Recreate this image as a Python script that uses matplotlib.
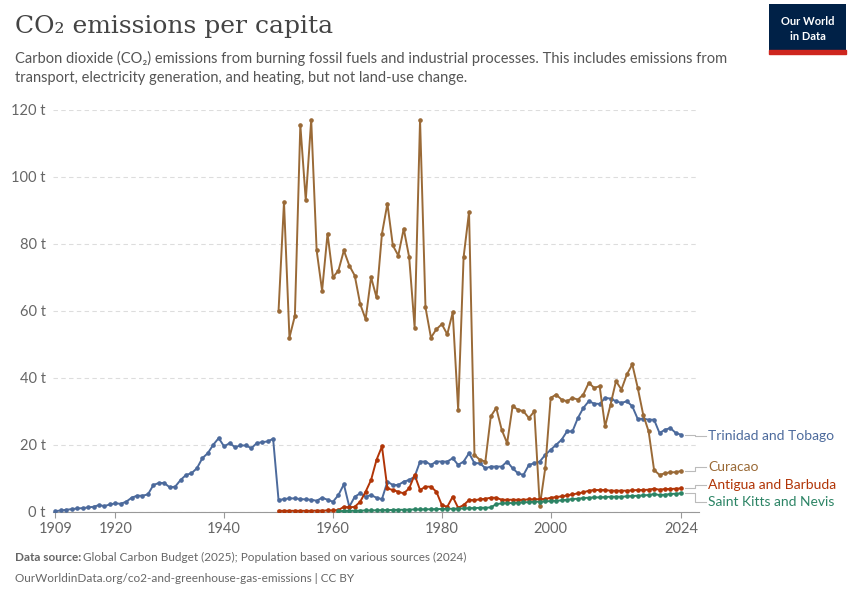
import matplotlib
matplotlib.use("Agg")
import matplotlib.pyplot as plt
import numpy as np

plt.rcParams['font.family'] = ['Lato', 'DejaVu Sans']

tt_years = list(range(1909, 2025))
tt_vals = [0.2,0.4,0.6,0.8,1.0,1.1,1.3,1.5,2.0,1.7,2.2,2.5,2.4,3.0,4.2,4.8,4.8,5.2,8.0,8.6,8.6,7.3,7.5,9.5,11.0,11.5,13.0,16.0,17.5,20.0,22.0,19.5,20.5,19.3,19.8,19.8,19.0,20.5,20.8,21.0,21.8,
           3.5,3.8,4.0,4.0,3.8,3.7,3.6,3.3,4.2,3.6,3.0,5.0,8.2,1.5,4.5,5.5,4.5,5.0,4.2,3.8,9.0,8.0,8.0,9.0,9.5,10.5,15.0,15.0,14.0,15.0,15.0,15.0,16.0,14.0,15.0,17.5,14.5,14.5,13.0,13.5,
           13.5,13.5,15.0,13.0,11.5,11.0,14.0,14.5,15.0,17.0,18.5,20.0,21.5,24.0,24.0,28.0,31.0,33.0,32.3,32.2,34.0,33.8,33.0,32.5,33.0,31.5,27.7,27.8,27.5,27.5,23.5,24.5,25.0,23.5,23.0]
cu_years = list(range(1950, 2025))
cu_vals = [60,92.5,52,58.5,115.5,93,117,78,66,83,70,72,78,73.5,70.5,62,57.5,70,64,83,92,79.5,76.5,84.5,76,55,117,61,52,54.5,56,53,59.5,30.5,76,89.5,17,15.5,15,28.5,
           31,24.5,20.5,31.5,30.5,30,28,30,1.7,13,34,35,33.5,33,34,33.5,35,38.5,37,37.5,25.5,32,39,36.5,41,44,37,29,24,12.5,11,11.5,11.8,11.8,12.2]
ag_years = list(range(1950, 2025))
ag_vals = [0.3,0.3,0.3,0.3,0.3,0.3,0.3,0.35,0.35,0.4,0.4,0.5,1.5,1.3,1.5,3.0,6.0,9.5,15.5,19.5,7.0,6.5,6.0,5.5,7.0,11.0,6.5,7.5,7.5,6.0,2.0,1.5,4.5,1.2,2.0,3.5,3.5,3.7,3.9,4.2,
           4.2,3.6,3.6,3.6,3.6,3.6,3.7,3.7,3.8,3.8,4.2,4.4,4.6,4.9,5.2,5.5,5.8,6.3,6.5,6.5,6.5,6.3,6.3,6.3,6.3,6.4,6.5,6.5,6.6,6.9,6.6,6.8,6.8,6.9,7.0]
sk_years = list(range(1961, 2025))
sk_vals = [0.2,0.25,0.3,0.3,0.35,0.4,0.4,0.45,0.5,0.5,0.55,0.6,0.6,0.65,0.7,0.7,0.75,0.75,0.8,0.85,0.9,0.9,0.95,1.0,1.1,1.1,1.2,1.2,1.3,2.3,
           2.5,2.6,2.6,2.7,2.8,2.9,3.0,3.0,3.1,3.2,3.3,3.4,3.6,3.8,3.9,4.1,4.2,4.3,4.3,4.4,4.5,4.5,4.5,4.6,4.7,4.8,4.9,5.0,5.3,5.0,5.1,5.3,5.4,5.5]

series = [
    ("Trinidad and Tobago", tt_years, tt_vals, "#4C6A9C"),
    ("Curacao", cu_years, cu_vals, "#9A6A37"),
    ("Antigua and Barbuda", ag_years, ag_vals, "#B13507"),
    ("Saint Kitts and Nevis", sk_years, sk_vals, "#2C8465"),
]

fig = plt.figure(figsize=(8.5, 6), dpi=100)
ax = fig.add_axes([0.062, 0.147, 0.76, 0.67])
for name, x, y, c in series:
    ax.plot(x, y, color=c, lw=1.4, marker='o', ms=2.3, zorder=3)

ax.set_xlim(1908.5, 2027.2)
ax.set_ylim(0, 120)
ax.set_yticks(range(0, 121, 20))
ax.set_yticklabels([f"{v} t" for v in range(0, 121, 20)], color="#666", fontsize=10.5)
ax.set_xticks([1909, 1920, 1940, 1960, 1980, 2000, 2024])
ax.tick_params(axis='x', colors='#999', labelcolor='#666', labelsize=10.5, length=4)
ax.tick_params(axis='y', length=0, pad=5)
ax.grid(axis='y', ls=(0, (4, 3)), color='#ddd', lw=0.8)
for s in ['top', 'right', 'left']:
    ax.spines[s].set_visible(False)
ax.spines['bottom'].set_color('#999')

labels = [("Trinidad and Tobago", 23.0, 22.5, "#4C6A9C"),
          ("Curacao", 12.2, 13.5, "#9A6A37"),
          ("Antigua and Barbuda", 7.0, 8.0, "#B13507"),
          ("Saint Kitts and Nevis", 5.5, 2.8, "#2C8465")]
for name, yv, yl, c in labels:
    ax.plot([2024.6, 2026.5, 2026.5, 2028.5], [yv, yv, yl, yl], color='#bbb', lw=0.8, clip_on=False)
    ax.text(2029, yl, name, color=c, fontsize=10, va='center', clip_on=False)

fig.text(0.018, 0.945, "CO₂ emissions per capita", fontsize=18, family=['DejaVu Serif'], color='#444')
fig.text(0.018, 0.895, "Carbon dioxide (CO₂) emissions from burning fossil fuels and industrial processes. This includes emissions from",
         fontsize=10.5, color='#555')
fig.text(0.018, 0.863, "transport, electricity generation, and heating, but not land-use change.", fontsize=10.5, color='#555')
fig.text(0.018, 0.065, "Data source:", fontsize=8.5, color='#666', weight='bold')
fig.text(0.098, 0.065, "Global Carbon Budget (2025); Population based on various sources (2024)", fontsize=8.5, color='#666')
fig.text(0.018, 0.03, "OurWorldinData.org/co2-and-greenhouse-gas-emissions | CC BY", fontsize=8.5, color='#666')

logo = fig.add_axes([0.905, 0.915, 0.09, 0.078])
logo.set_facecolor('#002147')
logo.set_xticks([]); logo.set_yticks([])
for s in logo.spines.values():
    s.set_visible(False)
logo.text(0.5, 0.64, "Our World", color='white', fontsize=8, ha='center', va='center', transform=logo.transAxes, weight='bold')
logo.text(0.5, 0.3, "in Data", color='white', fontsize=8, ha='center', va='center', transform=logo.transAxes, weight='bold')
fig.add_artist(plt.Rectangle((0.905, 0.91), 0.09, 0.006, transform=fig.transFigure, color='#CE261E'))

fig.savefig("out.png", dpi=100)
